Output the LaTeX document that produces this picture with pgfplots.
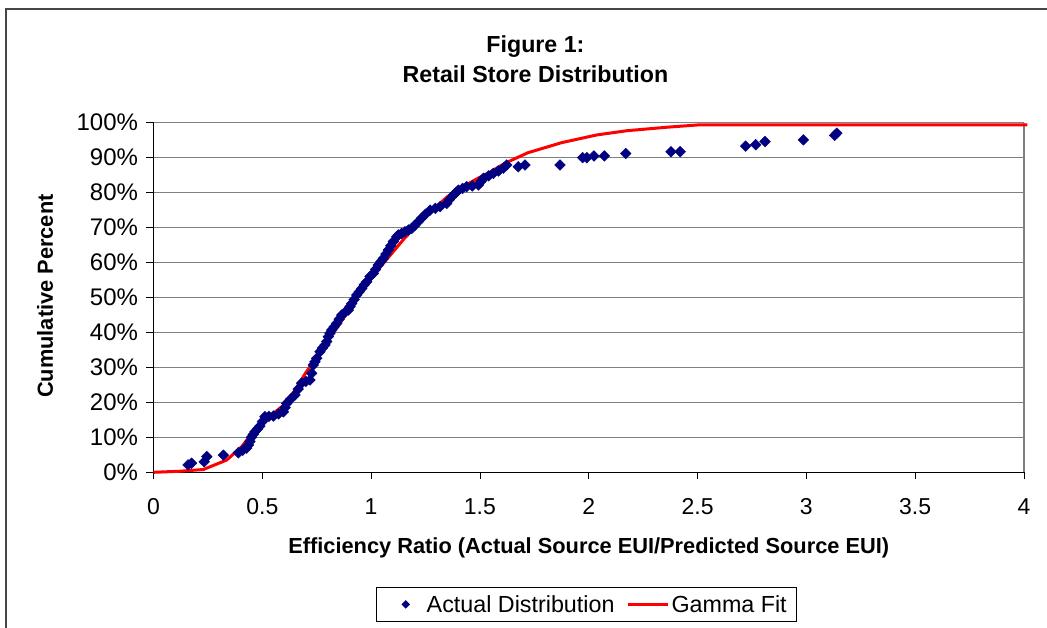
\documentclass[border=0pt]{standalone}
\usepackage{pgfplots}
\pgfplotsset{compat=1.18}
\usepackage{fontspec}
\setmainfont{Liberation Sans}
\definecolor{navy}{RGB}{0,0,128}
\definecolor{gridgray}{RGB}{128,128,128}
\definecolor{framegray}{RGB}{70,70,70}
\pgfplotsset{
  mylineleg/.style={legend image code/.code={\draw[##1] (0pt,0pt) -- (40pt,0pt);}},
  mymarkleg/.style={legend image code/.code={\path[draw=none,fill=none] (-10pt,0pt) -- (30pt,0pt);
     \draw[##1, mark size=2.6pt] plot coordinates {(11pt,0pt)};}},
}
\begin{document}
\begin{tikzpicture}[x=1pt,y=1pt]
\useasboundingbox[fill=white] (0,0) rectangle (1047,627);
\draw[framegray, line width=2pt] (6,-5) -- (6,618) -- (1060,618);
\begin{axis}[
  at={(153.5pt,154.7pt)}, anchor=south west,
  scale only axis, width=870.5pt, height=349.6pt,
  xmin=0, xmax=4, ymin=0, ymax=100,
  axis x line*=bottom, axis y line*=left,
  axis line style={black, line width=1pt},
  xtick={0,0.5,1,1.5,2,2.5,3,3.5,4},
  xticklabels={0,0.5,1,1.5,2,2.5,3,3.5,4},
  ytick={0,10,...,100},
  yticklabels={0\%,10\%,20\%,30\%,40\%,50\%,60\%,70\%,80\%,90\%,100\%},
  tick align=outside, major tick length=7pt,
  tick style={black, line width=0.8pt},
  ymajorgrids, grid style={gridgray, line width=1.2pt},
  tick label style={font=\fontsize{23}{27}\selectfont},
  xticklabel style={yshift=-16pt},
  yticklabel style={xshift=-5pt, font=\fontsize{24}{28}\selectfont},
  xlabel={Efficiency Ratio (Actual Source EUI/Predicted Source EUI)},
  ylabel={Cumulative Percent},
  label style={font=\bfseries\fontsize{21.8}{26}\selectfont},
  xlabel style={at={(axis description cs:0.5,-0.2165)}, anchor=center},
  ylabel style={at={(axis description cs:-0.1246,0.504)}, anchor=center, rotate=0},
  title={Figure 1:\\Retail Store Distribution},
  title style={at={(axis description cs:0.4388,1.165)}, anchor=center, align=center,
    font=\bfseries\fontsize{23.2}{30}\selectfont},
  legend columns=2,
  legend style={at={(axis description cs:0.4977,-0.378)}, anchor=center,
    draw=black, line width=0.8pt, fill=white,
    font=\fontsize{23.3}{27}\selectfont,
    inner xsep=8pt, inner ysep=6pt,
    /tikz/every even column/.append style={column sep=10pt}},
  legend cell align=left,
  clip=false,
]
\draw[gridgray, line width=1.2pt] (rel axis cs:1,0) -- (rel axis cs:1,1);
\addplot[only marks, mark=square*, mark size=3.8pt, color=navy, mymarkleg,
  mark options={rotate=45, fill=navy, draw=navy}] coordinates {
(0.159,2.1) (0.175,2.6) (0.233,3.0) (0.245,4.5) (0.321,4.9) (0.390,5.6)
(0.410,6.3) (0.428,6.9) (0.436,7.8) (0.443,8.8) (0.450,10.0) (0.458,10.8)
(0.466,11.6) (0.478,12.4) (0.489,13.2) (0.500,14.5) (0.512,15.9) (0.530,16.0)
(0.551,16.1) (0.575,16.7) (0.597,17.3) (0.605,18.5) (0.612,19.7) (0.630,20.9)
(0.650,22.1) (0.665,23.8) (0.681,25.5) (0.700,26.0) (0.719,26.4) (0.727,28.3)
(0.734,30.7) (0.742,31.6) (0.750,32.6) (0.765,34.5) (0.776,35.5) (0.788,36.4)
(0.796,37.4) (0.803,38.8) (0.811,39.8) (0.819,40.7) (0.830,41.6) (0.842,42.6)
(0.853,43.8) (0.865,45.0) (0.880,45.8) (0.895,46.4) (0.903,47.4) (0.911,48.3)
(0.922,49.4) (0.934,50.7) (0.945,51.6) (0.957,52.6) (0.968,53.6) (0.980,54.5)
(0.995,56.0) (1.010,56.9) (1.020,58.0) (1.033,59.3) (1.045,60.3) (1.056,61.2)
(1.068,62.4) (1.079,63.6) (1.090,64.8) (1.102,66.0) (1.118,67.4) (1.125,67.9)
(1.140,68.3) (1.156,68.8) (1.172,69.3) (1.187,69.8) (1.200,70.6) (1.217,71.7)
(1.232,72.7) (1.250,73.8) (1.271,75.0) (1.295,75.5) (1.317,76.0) (1.347,76.9)
(1.360,78.0) (1.378,79.3) (1.390,80.0) (1.401,80.7) (1.420,81.2) (1.439,81.7)
(1.465,81.9) (1.493,82.2) (1.505,83.2) (1.516,84.1) (1.540,84.8) (1.562,85.5)
(1.585,86.2) (1.608,87.0) (1.623,87.9) (1.676,87.4) (1.707,87.9)
(1.868,87.9) (1.972,90.0) (1.991,90.0) (2.024,90.5) (2.072,90.5) (2.170,91.2)
(2.378,91.7) (2.420,91.7) (2.721,93.3) (2.767,93.7) (2.810,94.6) (2.986,95.1)
(3.130,96.4) (3.140,97.0)
};
\addlegendentry{Actual Distribution}
\addplot[color=red, line width=3pt, no marks, mylineleg] coordinates {
(0,0) (0.12,0.3) (0.229,0.8) (0.336,3.5) (0.405,7.3) (0.451,11) (0.5,14.3)
(0.55,16.8) (0.6,19.3) (0.65,23.5) (0.7,28.5) (0.75,33) (0.8,37.5) (0.85,42)
(0.9,46.5) (0.95,51) (1.0,55.3) (1.05,59.3) (1.1,63) (1.15,66.7) (1.2,70)
(1.25,73) (1.3,76) (1.35,78.8) (1.4,81) (1.45,82.7) (1.5,84.4) (1.55,86)
(1.615,88.4) (1.72,91.4) (1.876,94.3) (2.037,96.5) (2.175,97.7) (2.358,98.7)
(2.51,99.4) (4.015,99.4)
};
\addlegendentry{Gamma Fit}
\end{axis}
\end{tikzpicture}
\end{document}
